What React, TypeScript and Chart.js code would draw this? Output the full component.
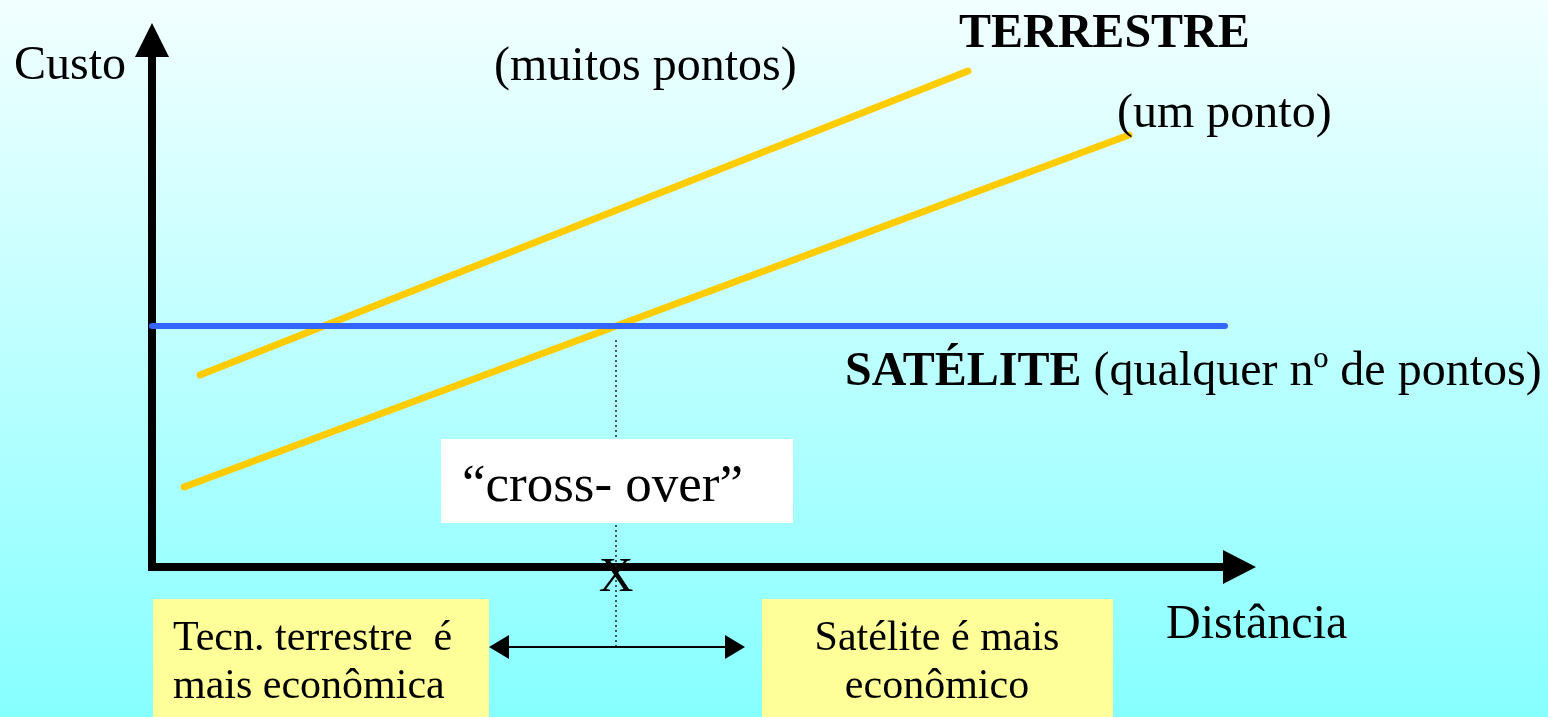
import React, { useEffect, useRef } from "react";
import { Chart, registerables } from "chart.js";

Chart.register(...registerables);

// Conceptual data (distance units on x, cost units on y)
const terrestreMuitosDist = [4.8, 81.6];
const terrestreMuitosCusto = [19.2, 49.6];
const terrestreUmDist = [3.2, 97.7];
const terrestreUmCusto = [8.0, 43.2];
const sateliteDist = [0, 107.3];
const sateliteCusto = [24.1, 24.1];
const crossOverDist = 46.4;
const X_MAX = 110.4;
const Y_MAX = 54.4;

const yAxisLabel = "Custo";
const xAxisLabel = "Distância";
const terrestreTitle = "TERRESTRE";
const muitosLabel = "(muitos pontos)";
const umLabel = "(um ponto)";
const sateliteTitle = "SATÉLITE";
const sateliteSub = " (qualquer nº de pontos)";
const crossLabel = "“cross- over”";
const leftBoxLines = ["Tecn. terrestre  é", "mais econômica"];
const rightBoxLines = ["Satélite é mais", "econômico"];

const SERIF = '"Liberation Serif", "Times New Roman", serif';

const diagramPlugin = {
  id: "diagram",
  beforeDraw(chart: any) {
    const { ctx, width, height } = chart;
    ctx.save();
    const g = ctx.createLinearGradient(0, 0, 0, height);
    g.addColorStop(0, "#f2ffff");
    g.addColorStop(1, "#86ffff");
    ctx.fillStyle = g;
    ctx.fillRect(0, 0, width, height);
    ctx.restore();
  },
  beforeDatasetsDraw(chart: any) {
    const { ctx } = chart;
    const xs = chart.scales.x;
    const ys = chart.scales.y;
    const ox = xs.getPixelForValue(0);
    const oy = ys.getPixelForValue(0);
    const tx = xs.getPixelForValue(X_MAX);
    const ty = ys.getPixelForValue(Y_MAX);
    ctx.save();
    ctx.strokeStyle = "#000";
    ctx.fillStyle = "#000";
    ctx.lineWidth = 8;
    ctx.lineJoin = "miter";
    ctx.lineCap = "butt";
    ctx.beginPath();
    ctx.moveTo(ox, ty + 30);
    ctx.lineTo(ox, oy);
    ctx.lineTo(tx - 30, oy);
    ctx.stroke();
    // arrow heads
    ctx.beginPath();
    ctx.moveTo(ox, ty);
    ctx.lineTo(ox - 17, ty + 34);
    ctx.lineTo(ox + 17, ty + 34);
    ctx.closePath();
    ctx.fill();
    ctx.beginPath();
    ctx.moveTo(tx, oy);
    ctx.lineTo(tx - 33, oy - 17);
    ctx.lineTo(tx - 33, oy + 17);
    ctx.closePath();
    ctx.fill();
    ctx.restore();
  },
  afterDatasetsDraw(chart: any) {
    const { ctx } = chart;
    const xs = chart.scales.x;
    const ys = chart.scales.y;
    const cx = xs.getPixelForValue(crossOverDist);
    const oy = ys.getPixelForValue(0);
    ctx.save();
    // dotted cross-over line
    ctx.strokeStyle = "#222";
    ctx.lineWidth = 1.5;
    ctx.setLineDash([2, 3]);
    ctx.beginPath();
    ctx.moveTo(cx, 340);
    ctx.lineTo(cx, 647);
    ctx.stroke();
    ctx.setLineDash([]);

    // cross-over white box
    ctx.fillStyle = "#ffffff";
    ctx.fillRect(441, 439, 352, 84);
    ctx.fillStyle = "#000";
    ctx.font = `53px ${SERIF}`;
    ctx.textBaseline = "alphabetic";
    ctx.textAlign = "left";
    ctx.fillText(crossLabel, 462, 501);

    // X mark
    ctx.font = `48px ${SERIF}`;
    ctx.textAlign = "center";
    ctx.fillText("X", cx, oy + 24);

    // yellow boxes
    ctx.fillStyle = "#ffff99";
    ctx.fillRect(153, 599, 336, 130);
    ctx.fillRect(762, 599, 351, 130);
    ctx.fillStyle = "#000";
    ctx.font = `42px ${SERIF}`;
    ctx.textAlign = "left";
    ctx.fillText(leftBoxLines[0], 173, 650);
    ctx.fillText(leftBoxLines[1], 173, 698);
    ctx.textAlign = "center";
    ctx.fillText(rightBoxLines[0], 937, 650);
    ctx.fillText(rightBoxLines[1], 937, 698);

    // double arrow
    ctx.strokeStyle = "#000";
    ctx.lineWidth = 2;
    ctx.beginPath();
    ctx.moveTo(505, 647);
    ctx.lineTo(730, 647);
    ctx.stroke();
    ctx.beginPath();
    ctx.moveTo(489, 647);
    ctx.lineTo(509, 635);
    ctx.lineTo(509, 659);
    ctx.closePath();
    ctx.fill();
    ctx.beginPath();
    ctx.moveTo(745, 647);
    ctx.lineTo(725, 635);
    ctx.lineTo(725, 659);
    ctx.closePath();
    ctx.fill();

    // labels
    ctx.textAlign = "left";
    ctx.font = `48px ${SERIF}`;
    ctx.fillText(yAxisLabel, 14, 79);
    ctx.fillText(muitosLabel, 494, 80);
    ctx.fillText(umLabel, 1117, 127);
    ctx.fillText(xAxisLabel, 1166, 638);
    ctx.font = `bold 48px ${SERIF}`;
    ctx.fillText(terrestreTitle, 959, 47);
    ctx.fillText(sateliteTitle, 845, 385);
    const w = ctx.measureText(sateliteTitle).width;
    ctx.font = `48px ${SERIF}`;
    ctx.fillText(sateliteSub, 845 + w, 385);
    ctx.restore();
  },
};

export default function App() {
  const ref = useRef<HTMLCanvasElement | null>(null);
  useEffect(() => {
    if (!ref.current) return;
    const toPts = (xs: number[], ys: number[]) => xs.map((x, i) => ({ x, y: ys[i] }));
    const chart = new Chart(ref.current, {
      type: "scatter",
      data: {
        datasets: [
          {
            label: "Satélite",
            data: toPts(sateliteDist, sateliteCusto),
            showLine: true,
            borderColor: "#3366ff",
            borderWidth: 6,
            borderCapStyle: "round",
            pointRadius: 0,
            clip: false,
          },
          {
            label: "Terrestre (muitos pontos)",
            data: toPts(terrestreMuitosDist, terrestreMuitosCusto),
            showLine: true,
            borderColor: "#ffcc00",
            borderWidth: 7,
            borderCapStyle: "round",
            pointRadius: 0,
            clip: false,
          },
          {
            label: "Terrestre (um ponto)",
            data: toPts(terrestreUmDist, terrestreUmCusto),
            showLine: true,
            borderColor: "#ffcc00",
            borderWidth: 7,
            borderCapStyle: "round",
            pointRadius: 0,
            clip: false,
          },
        ],
      } as any,
      options: {
        animation: false,
        responsive: false,
        devicePixelRatio: 1,
        layout: { padding: { left: 152, right: 292, top: 23, bottom: 150 } },
        plugins: { legend: { display: false }, tooltip: { enabled: false } },
        scales: {
          x: { type: "linear", min: 0, max: X_MAX, display: false },
          y: { type: "linear", min: 0, max: Y_MAX, display: false },
        },
      } as any,
      plugins: [diagramPlugin],
    });
    return () => chart.destroy();
  }, []);
  return (
    <div style={{ position: "fixed", left: 0, top: 0, width: 1548, height: 717 }}>
      <canvas ref={ref} width={1548} height={717} style={{ display: "block" }} />
    </div>
  );
}
